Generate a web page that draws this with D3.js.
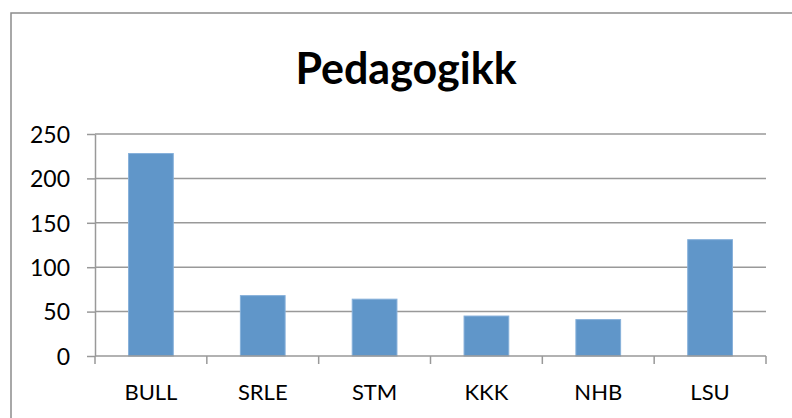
<!DOCTYPE html>
<html>
<head>
<meta charset="utf-8">
<script src="https://cdn.jsdelivr.net/npm/d3@7"></script>
<style>
  body { margin: 0; background: #fff; }
  text { font-family: Lato, "Open Sans", sans-serif; fill: #000; }
</style>
</head>
<body>
<script>
var width = 792, height = 418;

var categories = ["BULL", "SRLE", "STM", "KKK", "NHB", "LSU"];
var values = [228, 68, 64, 45, 41, 131];
var yTicks = [0, 50, 100, 150, 200, 250];
var title = "Pedagogikk";

var margin = {left: 95, right: 26, top: 134, bottom: 62};

var svg = d3.select("body").append("svg")
    .attr("width", width)
    .attr("height", height);

// chart frame
svg.append("rect")
    .attr("x", 11)
    .attr("y", 13)
    .attr("width", width + 20)
    .attr("height", height + 20)
    .attr("fill", "#fff")
    .attr("stroke", "#8c8c8c")
    .attr("stroke-width", 1.5);

var x = d3.scaleBand()
    .domain(categories)
    .range([margin.left, width - margin.right])
    .paddingInner(0.6)
    .paddingOuter(0.3);

var y = d3.scaleLinear()
    .domain([0, 250])
    .range([height - margin.bottom, margin.top]);

svg.append("text")
    .attr("x", 406)
    .attr("y", 84)
    .attr("text-anchor", "middle")
    .style("font-size", "43px")
    .style("font-weight", "bold")
    .text(title);

// gridlines
svg.append("g")
    .selectAll("line")
    .data(yTicks.slice(1))
  .enter().append("line")
    .attr("x1", margin.left)
    .attr("x2", width - margin.right)
    .attr("y1", function(d){ return y(d); })
    .attr("y2", function(d){ return y(d); })
    .attr("stroke", "#999")
    .attr("stroke-width", 1.5);

svg.selectAll(".bar")
    .data(values)
  .enter().append("rect")
    .attr("class", "bar")
    .attr("x", function(d, i){ return x(categories[i]); })
    .attr("y", function(d){ return y(d); })
    .attr("width", x.bandwidth())
    .attr("height", function(d){ return y(0) - y(d); })
    .attr("fill", "#6096c9")
    .attr("stroke", "#86b0da")
    .attr("stroke-width", 1);

var yAxis = svg.append("g")
    .attr("transform", "translate(" + margin.left + ",0)")
    .call(d3.axisLeft(y).tickValues(yTicks).tickSize(8).tickPadding(17).tickSizeOuter(0));

// x axis ticks sit at category boundaries
var step = x.step();
var bounds = categories.map(function(c){ return x(c) - (step - x.bandwidth()) / 2; });
bounds.push(width - margin.right);

var xAxis = svg.append("g");
xAxis.append("line")
    .attr("x1", margin.left)
    .attr("x2", width - margin.right)
    .attr("y1", y(0))
    .attr("y2", y(0))
    .attr("stroke", "#999")
    .attr("stroke-width", 1.5);
xAxis.selectAll(".xt")
    .data(bounds)
  .enter().append("line")
    .attr("class", "xt")
    .attr("x1", function(d){ return d; })
    .attr("x2", function(d){ return d; })
    .attr("y1", y(0))
    .attr("y2", y(0) + 8)
    .attr("stroke", "#999")
    .attr("stroke-width", 1.5);
xAxis.selectAll(".xl")
    .data(categories)
  .enter().append("text")
    .attr("class", "xl")
    .attr("x", function(d){ return x(d) + x.bandwidth() / 2; })
    .attr("y", 400)
    .attr("text-anchor", "middle")
    .style("font-size", "22px")
    .text(function(d){ return d; });

yAxis.selectAll("path").attr("stroke", "#999").attr("stroke-width", 1.5);
yAxis.selectAll(".tick line").attr("stroke", "#999").attr("stroke-width", 1.5);
yAxis.selectAll(".tick text")
    .style("font-size", "23px")
    .style("font-family", "Lato, 'Open Sans', sans-serif")
    .attr("dy", "0.36em");
</script>
</body>
</html>
